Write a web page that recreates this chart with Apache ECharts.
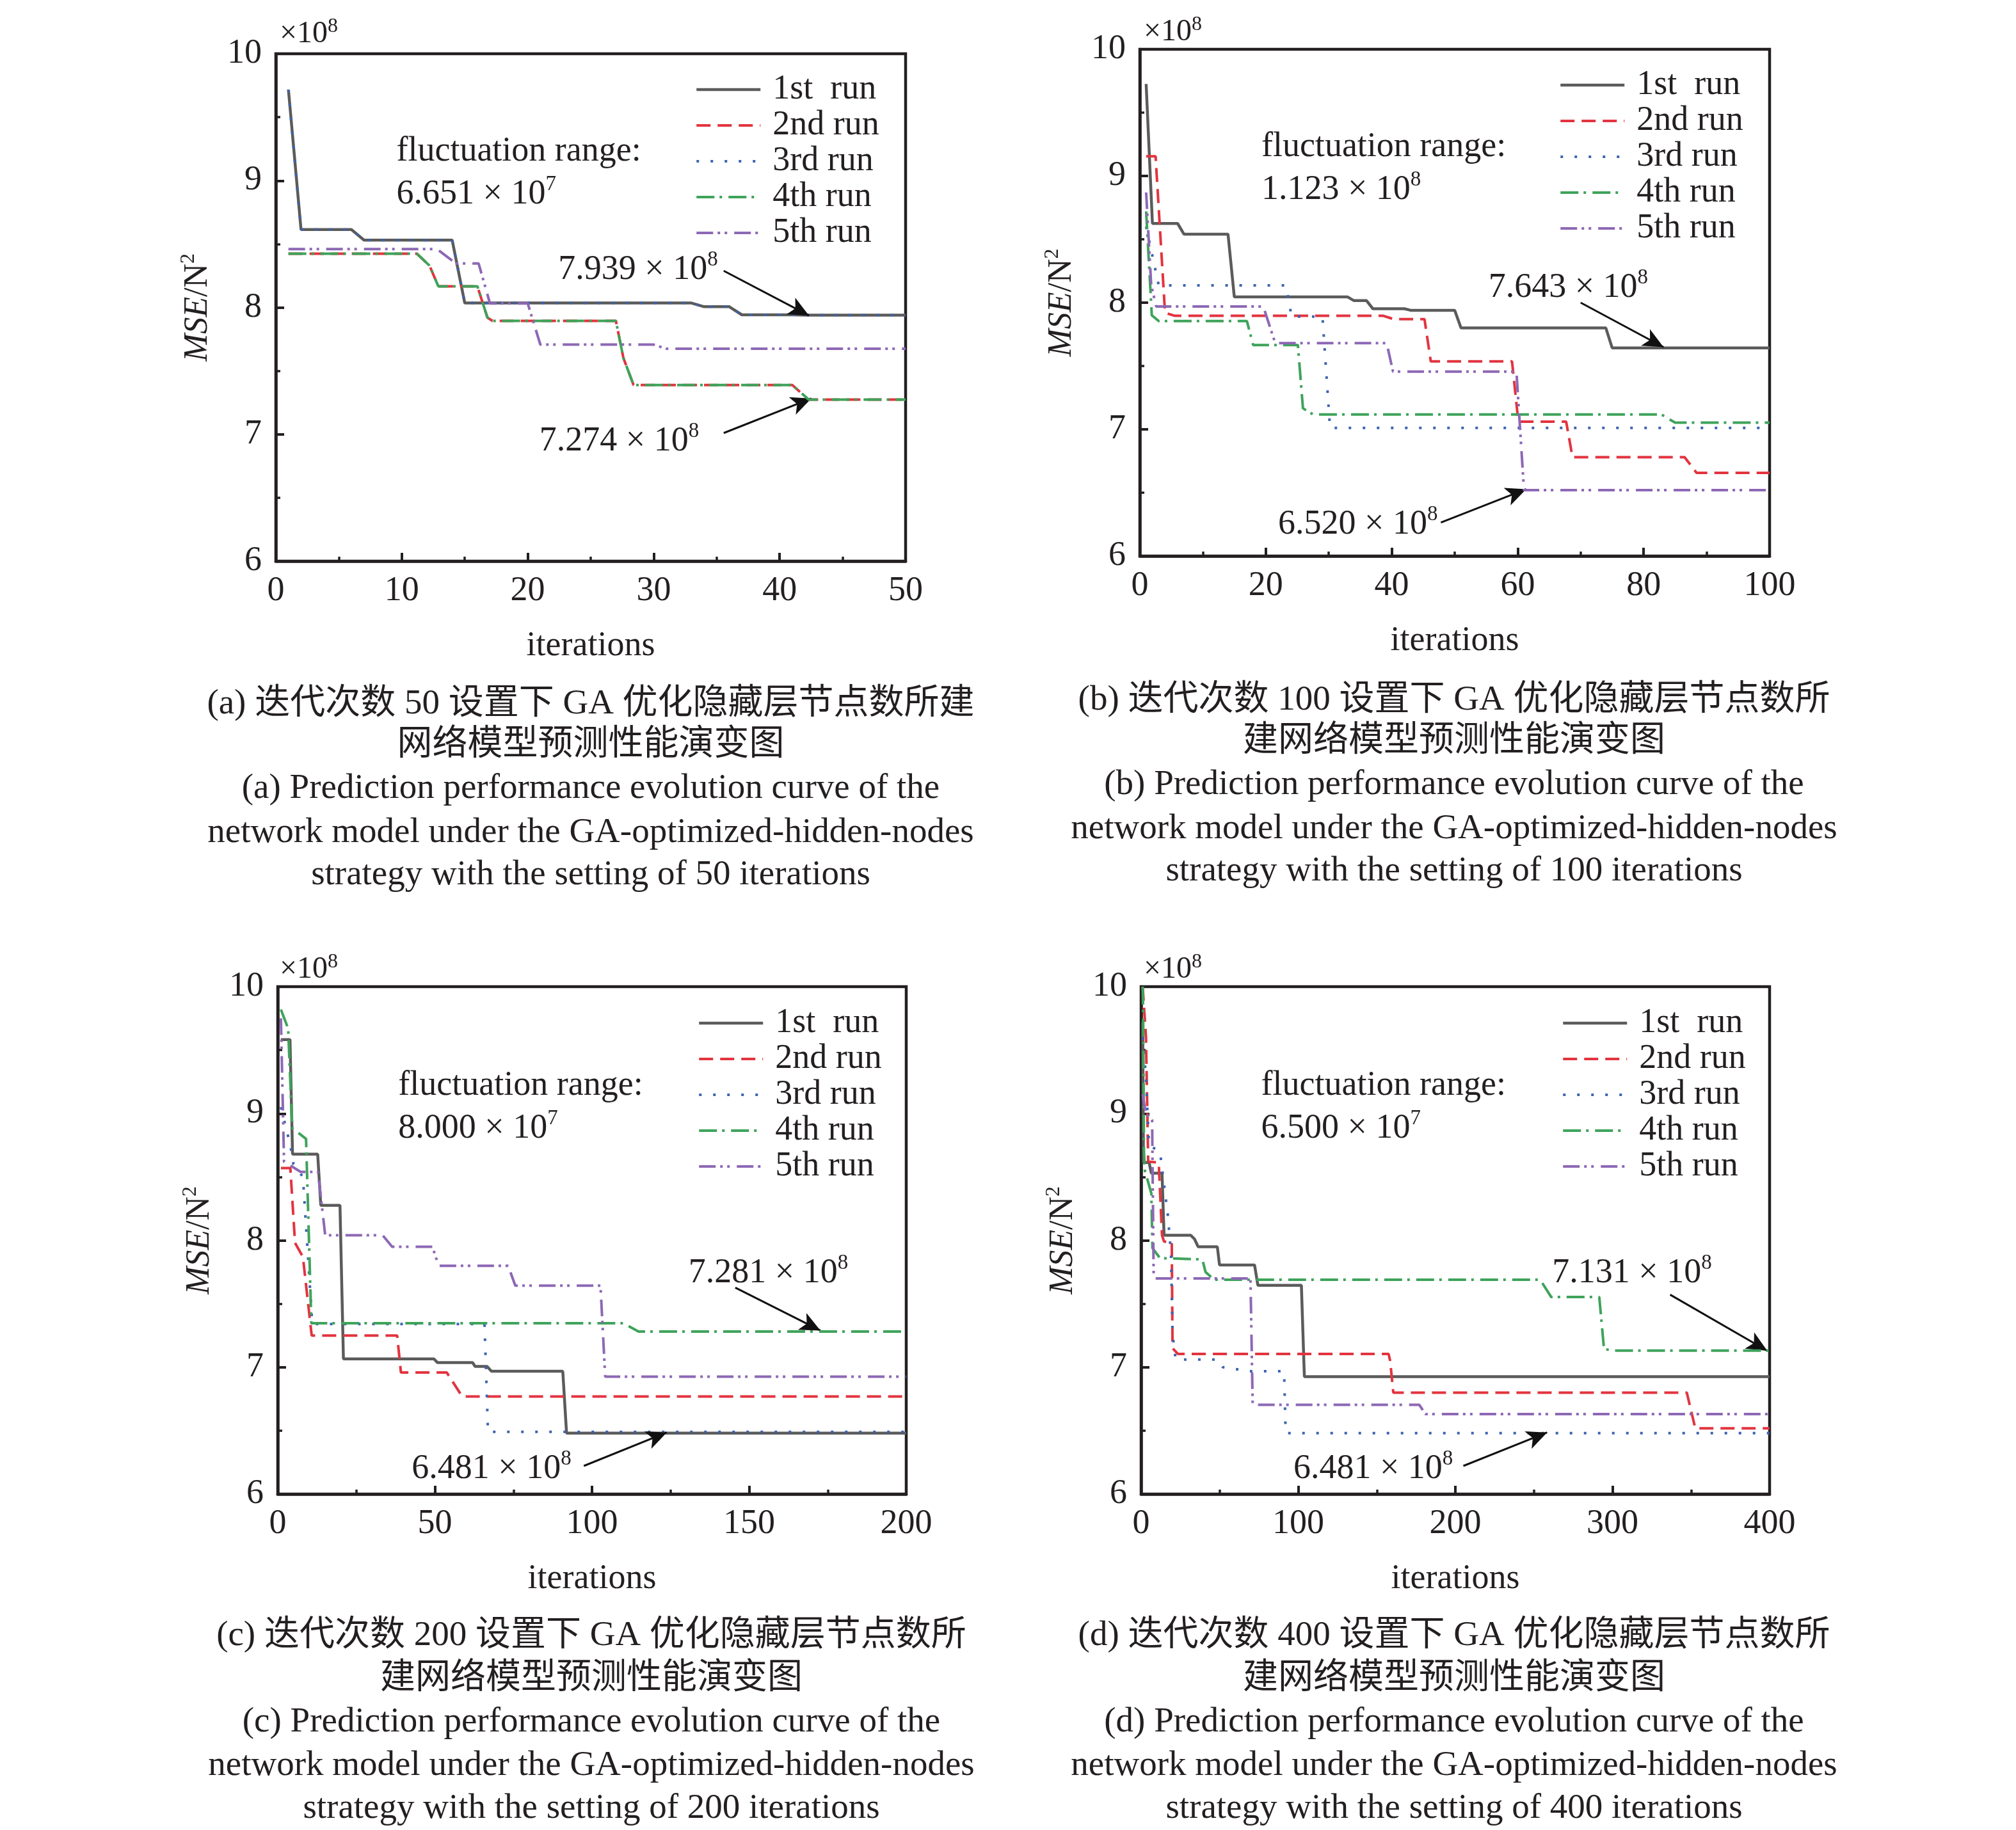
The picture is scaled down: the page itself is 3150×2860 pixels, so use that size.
<!DOCTYPE html>
<html><head><meta charset="utf-8">
<script src="https://cdn.jsdelivr.net/npm/echarts@6/dist/echarts.min.js"></script>
<style>html,body{margin:0;padding:0;background:#fff}#c{width:3150px;height:2860px}</style>
</head><body><div id="c"></div>
<script>
// ---------- data ----------
const runNames = ['1st  run', '2nd run', '3rd run', '4th run', '5th run'];
const yTicks = [6, 7, 8, 9, 10];
const xTicksA = [0, 10, 20, 30, 40, 50];
const xTicksB = [0, 20, 40, 60, 80, 100];
const xTicksC = [0, 50, 100, 150, 200];
const xTicksD = [0, 100, 200, 300, 400];

// (a) 50 iterations
const a1 = [[1,9.717],[2,8.614],[6,8.614],[7,8.531],[14,8.531],[15,8.035],[33,8.035],[34,8.006],[36,8.006],[37,7.942],[41,7.942],[42,7.939],[50,7.939]];
const a2 = [[1,8.424],[11.2,8.424],[12.2,8.33],[12.9,8.167],[16,8.167],[16.8,7.92],[17.2,7.894],[27,7.894],[27.6,7.6],[28.4,7.389],[41,7.389],[42.3,7.274],[50,7.274]];
const a3 = [[1,9.717],[2,8.614],[6,8.614],[7,8.531],[14,8.531],[15,8.035],[33,8.035],[34,8.006],[36,8.006],[37,7.942],[41,7.942],[42,7.939],[50,7.939]];
const a4 = [[1,8.424],[11.2,8.424],[12.2,8.33],[12.9,8.167],[16,8.167],[16.8,7.92],[17.2,7.894],[27,7.894],[27.6,7.6],[28.4,7.389],[41,7.389],[42.3,7.274],[50,7.274]];
const a5 = [[1,8.46],[12.8,8.46],[14.3,8.347],[16.1,8.347],[17,8.032],[20,8.032],[21,7.707],[30,7.707],[31,7.675],[50,7.675]];

// (b) 100 iterations
const b1 = [[1,9.726],[2,8.625],[6,8.625],[7,8.541],[14,8.541],[15,8.045],[33,8.045],[34,8.016],[36,8.016],[37,7.952],[42,7.952],[43,7.94],[50,7.94],[51,7.80],[74,7.80],[75,7.643],[100,7.643]];
const b2 = [[1,9.155],[2.5,9.155],[4,7.92],[5.5,7.897],[38.6,7.897],[40.3,7.87],[45.2,7.87],[46.2,7.536],[59.1,7.536],[60.1,7.06],[67.7,7.06],[68.7,6.78],[86.5,6.78],[88.4,6.657],[100,6.657]];
const b3 = [[1,8.6],[3,8.136],[23.2,8.136],[24.1,7.89],[29,7.89],[30.2,7.011],[100,7.011]];
const b4 = [[1,8.72],[1.9,7.9],[3,7.855],[17,7.855],[18,7.665],[25.1,7.665],[25.9,7.166],[27.5,7.118],[82.8,7.118],[85,7.053],[100,7.053]];
const b5 = [[1,8.87],[1.8,8.14],[2.6,7.97],[19.6,7.97],[21.5,7.68],[39.2,7.68],[40.2,7.456],[59.8,7.456],[61,6.52],[100,6.52]];

// (c) 200 iterations
const c1 = [[1,9.583],[3.9,9.583],[4.7,8.68],[12.7,8.68],[13.7,8.276],[19.8,8.276],[20.9,7.066],[49.7,7.066],[50.8,7.037],[62,7.037],[62.8,7.006],[66.6,7.006],[68,6.968],[90.7,6.968],[91.9,6.481],[200,6.481]];
const c2 = [[1,8.57],[4,8.57],[5.5,7.98],[8,7.87],[10.8,7.25],[38,7.25],[39.2,6.958],[53.8,6.958],[58.7,6.769],[200,6.769]];
const c3 = [[1,9.05],[4,8.75],[5,8.6],[8,8.5],[11,7.34],[65.8,7.34],[66.9,6.49],[200,6.49]];
const c4 = [[1,9.82],[3.3,9.67],[4.6,8.885],[9,8.8],[10.7,7.347],[110,7.347],[114.8,7.281],[200,7.281]];
const c5 = [[1,9.75],[2,8.62],[7.3,8.54],[12.8,8.54],[15.1,8.04],[33.4,8.04],[36.4,7.95],[49.2,7.95],[51.2,7.80],[73.3,7.80],[75.6,7.643],[102.7,7.643],[104.2,6.926],[200,6.926]];

// (d) 400 iterations
const d1 = [[1,9.72],[1.5,8.614],[5.1,8.614],[6.5,8.53],[13.3,8.53],[14.6,8.04],[31.6,8.04],[34,8.01],[36.3,7.95],[48.5,7.95],[49.9,7.806],[72.2,7.806],[74.3,7.646],[102,7.646],[103.9,6.926],[400,6.926]];
const d2 = [[1,10.0],[3.1,9.6],[4.5,8.62],[11.2,8.614],[13.3,8.04],[14.6,7.99],[19.5,7.99],[20,7.15],[23.4,7.105],[157.5,7.105],[158.5,7.05],[160.5,6.80],[347.3,6.80],[352.7,6.518],[400,6.518]];
const d3 = [[1,9.6],[3,9.3],[5,8.75],[12,8.7],[17,8.2],[19,7.9],[20,7.26],[22,7.06],[49,7.06],[52,7.0],[70,6.968],[91,6.968],[92,6.481],[400,6.481]];
const d4 = [[1,10.0],[1.3,9.8],[1.8,8.7],[2.4,8.55],[6.5,8.37],[7.2,7.94],[12,7.86],[39,7.85],[41,7.75],[46.5,7.69],[254,7.69],[261,7.553],[291.6,7.553],[294.6,7.144],[300,7.131],[400,7.131]];
const d5 = [[1,9.15],[3,9.0],[7,8.95],[8,7.7],[69.6,7.7],[71,6.704],[177,6.704],[181,6.63],[400,6.63]];

// annotation values [mantissa, exponent]
const rangeA = ['6.651', '7'], upperA = ['7.939', '8'], lowerA = ['7.274', '8'];
const rangeB = ['1.123', '8'], upperB = ['7.643', '8'], lowerB = ['6.520', '8'];
const rangeC = ['8.000', '7'], upperC = ['7.281', '8'], lowerC = ['6.481', '8'];
const rangeD = ['6.500', '7'], upperD = ['7.131', '8'], lowerD = ['6.481', '8'];

const captionA = ['(a) 迭代次数 50 设置下 GA 优化隐藏层节点数所建', '网络模型预测性能演变图',
  '(a) Prediction performance evolution curve of the', 'network model under the GA-optimized-hidden-nodes', 'strategy with the setting of 50 iterations'];
const captionB = ['(b) 迭代次数 100 设置下 GA 优化隐藏层节点数所', '建网络模型预测性能演变图',
  '(b) Prediction performance evolution curve of the', 'network model under the GA-optimized-hidden-nodes', 'strategy with the setting of 100 iterations'];
const captionC = ['(c) 迭代次数 200 设置下 GA 优化隐藏层节点数所', '建网络模型预测性能演变图',
  '(c) Prediction performance evolution curve of the', 'network model under the GA-optimized-hidden-nodes', 'strategy with the setting of 200 iterations'];
const captionD = ['(d) 迭代次数 400 设置下 GA 优化隐藏层节点数所', '建网络模型预测性能演变图',
  '(d) Prediction performance evolution curve of the', 'network model under the GA-optimized-hidden-nodes', 'strategy with the setting of 400 iterations'];

// ---------- layout / style ----------
const FONT = "'Liberation Serif','Times New Roman',serif";
const CAPFONT = "'Liberation Serif','Noto Sans CJK SC',serif";
const INK = '#231f20';
const styles = [
  {color: '#5b5b5b', type: 'solid', width: 4.5},
  {color: '#e2343f', type: [22, 11], width: 4},
  {color: '#3d63b0', type: [4, 18], width: 4},
  {color: '#3ea35a', type: [28, 8, 4, 10], width: 4},
  {color: '#8d68b5', type: [26, 7, 4, 7, 4, 11], width: 4}
];

const panels = [
  {grid: {left: 431, top: 84, width: 984, height: 793}, xTicks: xTicksA, runs: [a1, a2, a3, a4, a5],
   range: rangeA, upper: upperA, lower: lowerA, caption: captionA, capX: 923, capY: [1101, 1165, 1233, 1302, 1368],
   legend: {left: 1086, top: 113}, mult: {left: 437, top: 26},
   ann: {fr: [9.55, 9.228], frv: [9.55, 8.891], up: [22.4, 8.296], upArrow: [[35.56, 8.289], [42.33, 7.936]],
         lo: [20.9, 6.945], loArrow: [[35.56, 7.01], [42.52, 7.283]]}},
  {grid: {left: 1781, top: 77, width: 984, height: 792}, xTicks: xTicksB, runs: [b1, b2, b3, b4, b5],
   range: rangeB, upper: upperB, lower: lowerB, caption: captionB, capX: 2272, capY: [1095, 1159, 1227, 1296, 1362],
   legend: {left: 2436, top: 106}, mult: {left: 1787, top: 23},
   ann: {fr: [19.25, 9.227], frv: [19.25, 8.889], up: [55.3, 8.116], upArrow: [[70.0, 8.0], [83.16, 7.649]],
         lo: [21.9, 6.248], loArrow: [[47.8, 6.264], [61.35, 6.528]]}},
  {grid: {left: 434, top: 1542, width: 982, height: 793}, xTicks: xTicksC, runs: [c1, c2, c3, c4, c5],
   range: rangeC, upper: upperC, lower: lowerC, caption: captionC, capX: 924, capY: [2557, 2624, 2692, 2760, 2827],
   legend: {left: 1090, top: 1572}, mult: {left: 437, top: 1488},
   ann: {fr: [38.25, 9.219], frv: [38.25, 8.881], up: [130.6, 7.74], upArrow: [[145.6, 7.627], [172.7, 7.289]],
         lo: [42.5, 6.196], loArrow: [[97.4, 6.222], [123.8, 6.486]]}},
  {grid: {left: 1783, top: 1542, width: 982, height: 793}, xTicks: xTicksD, runs: [d1, d2, d3, d4, d5],
   range: rangeD, upper: upperD, lower: lowerD, caption: captionD, capX: 2272, capY: [2557, 2624, 2692, 2760, 2827],
   legend: {left: 2440, top: 1572}, mult: {left: 1787, top: 1488},
   ann: {fr: [76.2, 9.219], frv: [76.2, 8.881], up: [261.4, 7.74], upArrow: [[336.7, 7.572], [398.5, 7.13]],
         lo: [96.7, 6.196], loArrow: [[205.1, 6.222], [258.4, 6.486]]}}
];

const supRich = {
  b: {fontSize: 54, lineHeight: 64, fontFamily: FONT, color: INK, fontWeight: 'normal'},
  s: {fontSize: 33, lineHeight: 33, fontFamily: FONT, color: INK, verticalAlign: 'top', fontWeight: 'normal'}
};

const option = {
  animation: false,
  backgroundColor: '#fff',
  grid: [], xAxis: [], yAxis: [], series: [], legend: [], title: [], graphic: []
};

panels.forEach((p, i) => {
  option.grid.push(Object.assign({show: true, borderColor: INK, borderWidth: 4.5, backgroundColor: 'transparent'}, p.grid));
  const axisCommon = {
    gridIndex: i, type: 'value',
    axisLine: {show: true, lineStyle: {color: INK, width: 4.5}},
    axisTick: {show: true, inside: true, length: 13, lineStyle: {color: INK, width: 4}},
    minorTick: {show: true, splitNumber: 2, length: 7, lineStyle: {color: INK, width: 3.5}},
    splitLine: {show: false}, minorSplitLine: {show: false},
    axisLabel: {fontSize: 54, fontFamily: FONT, color: INK, margin: 20, showMinLabel: true, showMaxLabel: true}
  };
  const xt = p.xTicks;
  option.xAxis.push(Object.assign({}, axisCommon, {
    min: xt[0], max: xt[xt.length - 1], interval: xt[1] - xt[0],
    name: 'iterations', nameLocation: 'middle', nameGap: 106,
    nameTextStyle: {fontSize: 54, fontFamily: FONT, color: INK}
  }));
  option.yAxis.push(Object.assign({}, axisCommon, {
    min: yTicks[0], max: yTicks[yTicks.length - 1], interval: yTicks[1] - yTicks[0],
    axisLabel: Object.assign({}, axisCommon.axisLabel, {margin: 22}),
    name: '{i|MSE}{n|/N}{s|2}', nameLocation: 'middle', nameRotate: 90, nameGap: 92,
    nameTextStyle: {rich: {
      i: {fontSize: 52, fontStyle: 'italic', fontFamily: FONT, color: INK, lineHeight: 60},
      n: {fontSize: 52, fontFamily: FONT, color: INK, lineHeight: 60},
      s: {fontSize: 32, fontFamily: FONT, color: INK, lineHeight: 32, verticalAlign: 'top'}
    }}
  }));
  p.runs.forEach((d, k) => {
    const st = styles[k];
    const s = {
      type: 'line', name: runNames[k], xAxisIndex: i, yAxisIndex: i, data: d,
      symbol: 'none', showSymbol: false, silent: true, z: 2 + k,
      itemStyle: {color: st.color},
      lineStyle: {color: st.color, width: st.width, type: st.type}
    };
    if (k === 4) {
      const lbl = (t) => ({formatter: t});
      s.markPoint = {
        symbol: 'circle', symbolSize: 1, silent: true, itemStyle: {color: 'rgba(0,0,0,0)'},
        label: {show: true, position: 'right', distance: 0, color: INK, fontSize: 54, fontFamily: FONT, rich: supRich},
        data: [
          {coord: p.ann.fr, label: lbl('{b|fluctuation range:}')},
          {coord: p.ann.frv, label: lbl('{b|' + p.range[0] + ' × 10}{s|' + p.range[1] + '}')},
          {coord: p.ann.up, label: lbl('{b|' + p.upper[0] + ' × 10}{s|' + p.upper[1] + '}')},
          {coord: p.ann.lo, label: lbl('{b|' + p.lower[0] + ' × 10}{s|' + p.lower[1] + '}')}
        ]
      };
      s.markLine = {
        silent: true, symbol: ['none', 'arrow'], symbolSize: [22, 32],
        lineStyle: {color: '#111', width: 3, type: 'solid'},
        itemStyle: {color: '#111'},
        label: {show: false},
        data: [
          [{coord: p.ann.upArrow[0]}, {coord: p.ann.upArrow[1]}],
          [{coord: p.ann.loArrow[0]}, {coord: p.ann.loArrow[1]}]
        ]
      };
    }
    option.series.push(s);
  });
  option.legend.push({
    orient: 'vertical', left: p.legend.left, top: p.legend.top, padding: 0,
    itemWidth: 100, itemHeight: 20, itemGap: 2, selectedMode: false,
    data: runNames.map((n, k) => ({
      name: n,
      itemStyle: {color: 'rgba(0,0,0,0)', borderWidth: 0, opacity: 0},
      lineStyle: {color: styles[k].color, width: styles[k].width, type: styles[k].type, opacity: 1}
    })),
    itemStyle: {color: 'rgba(0,0,0,0)', borderWidth: 0, opacity: 0},
    textStyle: {fontSize: 54, fontFamily: FONT, color: INK, lineHeight: 54, padding: [0, 0, 0, 14]}
  });
  option.title.push({
    text: '{a|×10}{s|8}', left: p.mult.left, top: p.mult.top, padding: 0,
    textStyle: {fontWeight: 'normal', rich: {
      a: {fontSize: 48, fontFamily: FONT, color: INK, lineHeight: 54, fontWeight: 'normal'},
      s: {fontSize: 32, fontFamily: FONT, color: INK, lineHeight: 32, verticalAlign: 'top', fontWeight: 'normal'}
    }}
  });
  p.caption.forEach((line, j) => {
    option.graphic.push({
      type: 'text', x: p.capX, y: p.capY[j], silent: true,
      style: {text: line, fill: INK, fontSize: 55, fontFamily: CAPFONT,
              textAlign: 'center', align: 'center', textVerticalAlign: 'middle', verticalAlign: 'middle'}
    });
  });
});

const chart = echarts.init(document.getElementById('c'));
chart.setOption(option);
</script></body></html>
